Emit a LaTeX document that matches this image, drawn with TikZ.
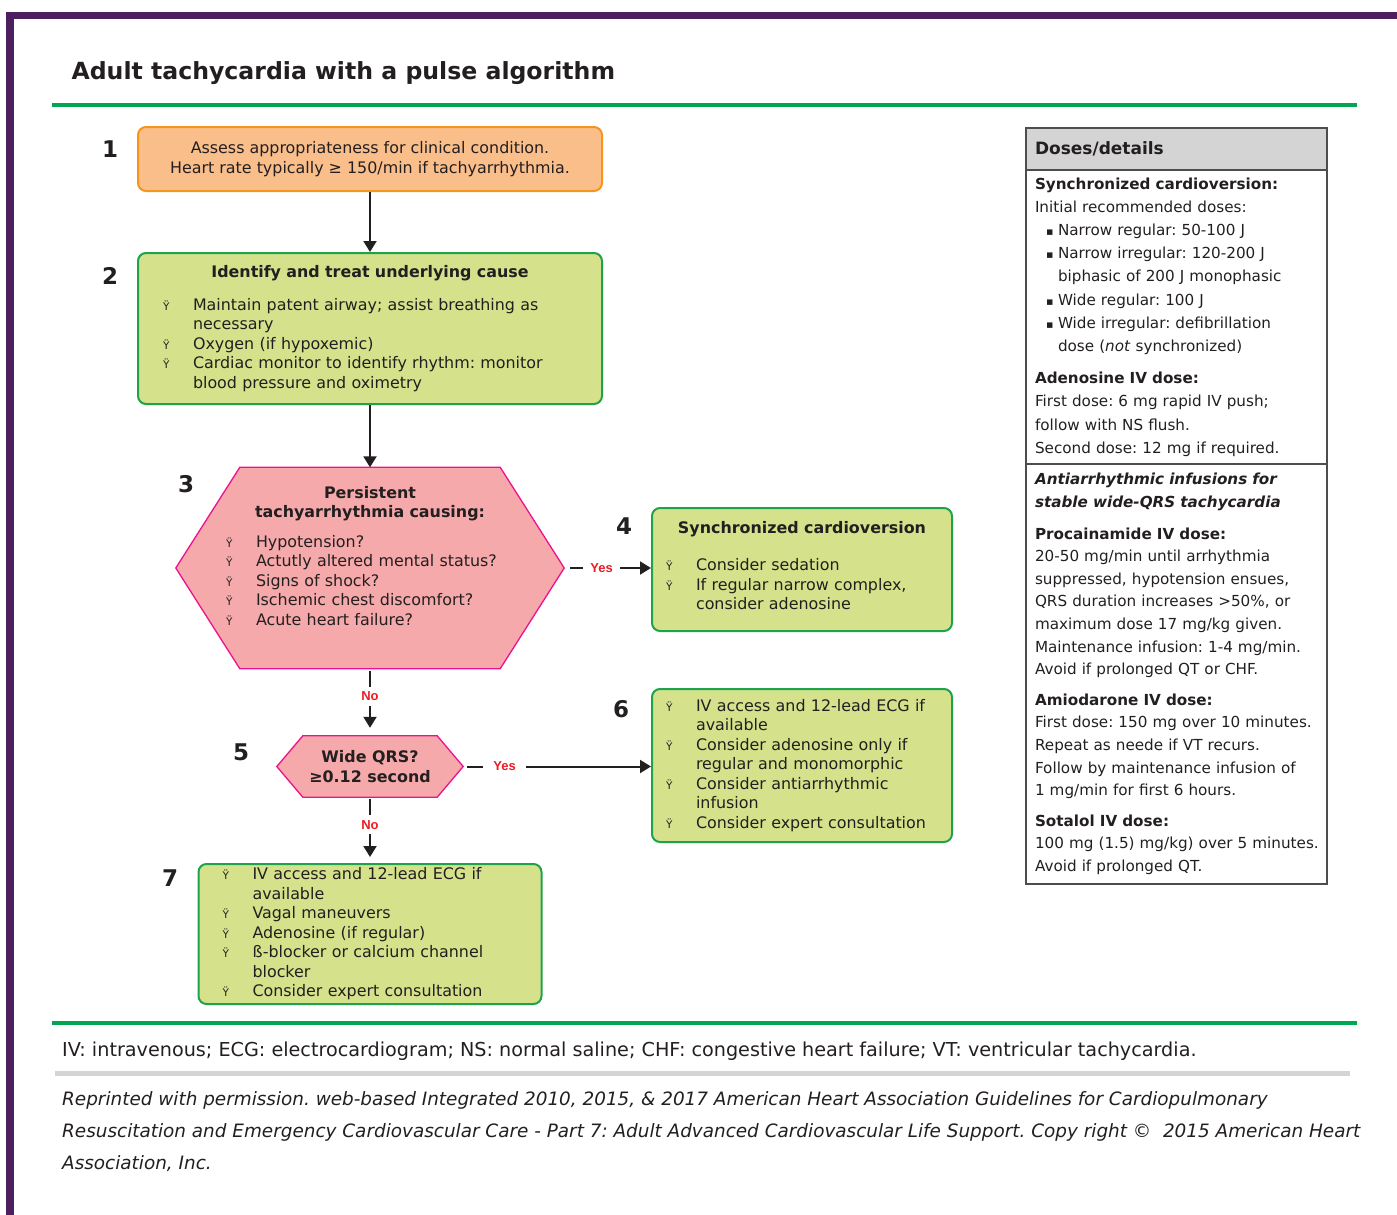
\documentclass[tikz,border=0pt]{standalone}
\usepackage{fontspec}
\setmainfont{DejaVu Sans}
\newfontfamily\labelfont{Liberation Sans}
\usepackage{xcolor}
\usetikzlibrary{arrows.meta, positioning, calc, backgrounds}
\frenchspacing

\definecolor{frameplum}{HTML}{4E1F5F}
\definecolor{rulegreen}{HTML}{00A651}
\definecolor{inkdark}{HTML}{231F20}
\definecolor{assessfill}{HTML}{FABE8A}
\definecolor{assessline}{HTML}{F7941D}
\definecolor{actfill}{HTML}{D5E28B}
\definecolor{actline}{HTML}{1EA34C}
\definecolor{askfill}{HTML}{F6A9AA}
\definecolor{askline}{HTML}{EC118C}
\definecolor{headgray}{HTML}{D4D4D4}
\definecolor{answerred}{HTML}{ED1C24}

\newcommand{\bodyfont}{\fontsize{15.9}{19.5}\selectfont}
\newcommand{\dosefont}{\fontsize{15.2}{22.6}\selectfont}
\newcommand{\bitem}[1]{\makebox[30pt][l]{\fontsize{10.5}{10.5}\selectfont Ÿ}\mbox{#1}}
\newcommand{\bcont}[1]{\hspace*{30pt}\mbox{#1}}
\newcommand{\sqitem}[1]{\hspace*{11pt}\makebox[12pt][l]{\fontsize{11}{11}\selectfont ▪}\mbox{#1}}
\newcommand{\sqcont}[1]{\hspace*{23pt}\mbox{#1}}
\newcommand{\boxhead}[1]{\makebox[\linewidth]{\bfseries #1}}

\tikzset{
    assessbox/.style={rectangle, draw=assessline, fill=assessfill, rounded corners=8pt, line width=2pt, inner sep=0pt, align=center, font=\bodyfont},
    actbox/.style={rectangle, draw=actline, fill=actfill, rounded corners=8pt, line width=2pt, inner sep=0pt, align=left, font=\bodyfont},
    askhex/.style={rectangle, inner sep=0pt, font=\bodyfont},
    hexline/.style={draw=askline, fill=askfill, line width=1.3pt},
    stepnum/.style={font=\fontsize{23}{23}\selectfont\bfseries},
    answer/.style={fill=white, text=answerred, font=\labelfont\fontsize{13}{13}\selectfont\bfseries, inner xsep=7pt, inner ysep=5pt},
    arrow/.style={-{Triangle[length=11pt, width=13pt]}, line width=2pt, draw=inkdark},
    dosebox/.style={rectangle, draw=inkdark!80, line width=1.2pt, minimum width=301pt, text width=283pt, inner sep=0pt, outer sep=0pt, align=left, font=\dosefont}
}

\begin{document}
\begin{tikzpicture}[x=1pt, y=-1pt, every node/.style={text=inkdark}]
    \useasboundingbox (0,0) rectangle (1397,1215);
    % frame, title and rules
    \fill[frameplum] (6,12) rectangle (1397,19);
    \fill[frameplum] (6,12) rectangle (14,1215);
    \node[anchor=base west, font=\fontsize{23.6}{28}\selectfont\bfseries] (title) at (68,80) {Adult tachycardia with a pulse algorithm};
    \draw[rulegreen, line width=4pt] (52,105) -- (1357,105);

    % algorithm
    \node[assessbox, minimum width=464pt, minimum height=64pt] (assess) at (370,159) {Assess appropriateness for clinical condition.\\Heart rate typically ≥ 150/min if tachyarrhythmia.};
    \node[actbox, minimum width=464pt, minimum height=151pt, text width=414pt] (cause) at (370,328.5) {\boxhead{Identify and treat underlying cause}\\[13pt]
        \bitem{Maintain patent airway; assist breathing as}\\
        \bcont{necessary}\\
        \bitem{Oxygen (if hypoxemic)}\\
        \bitem{Cardiac monitor to identify rhythm: monitor}\\
        \bcont{blood pressure and oximetry}};
    \node[askhex, minimum width=388pt, minimum height=201pt, text width=288pt, align=left] (persist) at (370,568) {\boxhead{Persistent}\\
        \boxhead{tachyarrhythmia causing:}\\[10pt]
        \bitem{Hypotension?}\\
        \bitem{Actutly altered mental status?}\\
        \bitem{Signs of shock?}\\
        \bitem{Ischemic chest discomfort?}\\
        \bitem{Acute heart failure?}\\[5pt]\mbox{}};
    \node[askhex, minimum width=186pt, minimum height=61pt, align=center, font=\bodyfont\bfseries] (wideqrs) at (370,766.5) {Wide QRS?\\≥0.12 second};
    \node[actbox, minimum width=300pt, minimum height=123pt, text width=272pt] (cardiov) at (802,569.5) {\boxhead{Synchronized cardioversion}\\[18pt]
        \bitem{Consider sedation}\\
        \bitem{If regular narrow complex,}\\
        \bcont{consider adenosine}\\[-11.5pt]\mbox{}};
    \node[actbox, minimum width=300pt, minimum height=153pt, text width=272pt] (widecare) at (802,765.5) {\bitem{IV access and 12-lead ECG if}\\
        \bcont{available}\\
        \bitem{Consider adenosine only if}\\
        \bcont{regular and monomorphic}\\
        \bitem{Consider antiarrhythmic}\\
        \bcont{infusion}\\
        \bitem{Consider expert consultation}};
    \node[actbox, minimum width=343pt, minimum height=140pt, text width=295pt] (narrowcare) at (370,934) {\bitem{IV access and 12-lead ECG if}\\
        \bcont{available}\\
        \bitem{Vagal maneuvers}\\
        \bitem{Adenosine (if regular)}\\
        \bitem{ß-blocker or calcium channel}\\
        \bcont{blocker}\\
        \bitem{Consider expert consultation}};

    \begin{scope}[on background layer]
        \draw[hexline] (persist.west) -- ([xshift=64pt]persist.north west) -- ([xshift=-64pt]persist.north east) -- (persist.east) -- ([xshift=-64pt]persist.south east) -- ([xshift=64pt]persist.south west) -- cycle;
        \draw[hexline] (wideqrs.west) -- ([xshift=26pt]wideqrs.north west) -- ([xshift=-26pt]wideqrs.north east) -- (wideqrs.east) -- ([xshift=-26pt]wideqrs.south east) -- ([xshift=26pt]wideqrs.south west) -- cycle;
    \end{scope}

    \node[stepnum] (n1) at (110,149) {1};
    \node[stepnum] (n2) at (110,276) {2};
    \node[stepnum] (n3) at (186,484) {3};
    \node[stepnum] (n4) at (624,526) {4};
    \node[stepnum] (n5) at (241,752) {5};
    \node[stepnum] (n6) at (621,709) {6};
    \node[stepnum] (n7) at (170,878) {7};

    \draw[arrow] (assess) -- (cause);
    \draw[arrow] (cause) -- (persist);
    \draw[arrow, shorten <=6pt] (persist.east) -- node[answer, pos=.43] {Yes} (persist.east -| cardiov.west);
    \draw[arrow, shorten <=2pt, shorten >=8pt] (persist.south) -- node[answer, pos=.41] {No} (wideqrs.north);
    \draw[arrow, shorten <=4pt] (wideqrs.east) -- node[answer, pos=.22, inner xsep=10pt] {Yes} (wideqrs.east -| widecare.west);
    \draw[arrow, shorten <=2pt, shorten >=6pt] (wideqrs.south) -- node[answer, pos=.42] {No} (narrowcare.north);

    % doses panel
    \node[dosebox, fill=headgray, minimum height=42pt, font=\fontsize{17}{20}\selectfont\bfseries] (dosehead) at (1176.5,149) {Doses/details};
    \node[dosebox, below=0pt of dosehead, minimum height=294pt, font=\fontsize{15.2}{23.2}\selectfont] (doseshock) {{\bfseries Synchronized cardioversion:}\\
        Initial recommended doses:\\
        \sqitem{Narrow regular: 50-100 J}\\
        \sqitem{Narrow irregular: 120-200 J}\\
        \sqcont{biphasic of 200 J monophasic}\\
        \sqitem{Wide regular: 100 J}\\
        \sqitem{Wide irregular: defibrillation}\\
        \sqcont{dose (\textit{not} synchronized)}\\[9pt]
        {\bfseries Adenosine IV dose:}\\
        \mbox{First dose: 6 mg rapid IV push;}\\
        follow with NS flush.\\
        \mbox{Second dose: 12 mg if required.}};
    \node[dosebox, below=0pt of doseshock, minimum height=420pt] (doseinfuse) {{\bfseries\itshape Antiarrhythmic infusions for}\\
        {\bfseries\itshape stable wide-QRS tachycardia}\\[9pt]
        {\bfseries Procainamide IV dose:}\\
        \mbox{20-50 mg/min until arrhythmia}\\
        \mbox{suppressed, hypotension ensues,}\\
        \mbox{QRS duration increases >50\%, or}\\
        \mbox{maximum dose 17 mg/kg given.}\\
        \mbox{Maintenance infusion: 1-4 mg/min.}\\
        \mbox{Avoid if prolonged QT or CHF.}\\[8pt]
        {\bfseries Amiodarone IV dose:}\\
        \mbox{First dose: 150 mg over 10 minutes.}\\
        \mbox{Repeat as neede if VT recurs.}\\
        \mbox{Follow by maintenance infusion of}\\
        \mbox{1 mg/min for first 6 hours.}\\[8pt]
        {\bfseries Sotalol IV dose:}\\
        \mbox{100 mg (1.5) mg/kg) over 5 minutes.}\\
        Avoid if prolonged QT.};

    % footnotes
    \draw[rulegreen, line width=4pt] (52,1023) -- (1357,1023);
    \node[anchor=base west, inner sep=0pt, font=\fontsize{19.2}{23}\selectfont] (abbrev) at (62,1056) {IV: intravenous; ECG: electrocardiogram; NS: normal saline; CHF: congestive heart failure; VT: ventricular tachycardia.};
    \draw[headgray, line width=5pt] (55,1073) -- (1350,1073);
    \node[anchor=base west, inner sep=0pt, align=left, font=\fontsize{18.4}{32}\selectfont\itshape] (credit) at (62,1169) {Reprinted with permission. web-based Integrated 2010, 2015, \& 2017 American Heart Association Guidelines for Cardiopulmonary\\
        Resuscitation and Emergency Cardiovascular Care - Part 7: Adult Advanced Cardiovascular Life Support. Copy right ©~ 2015 American Heart\\
        Association, Inc.};
\end{tikzpicture}
\end{document}
